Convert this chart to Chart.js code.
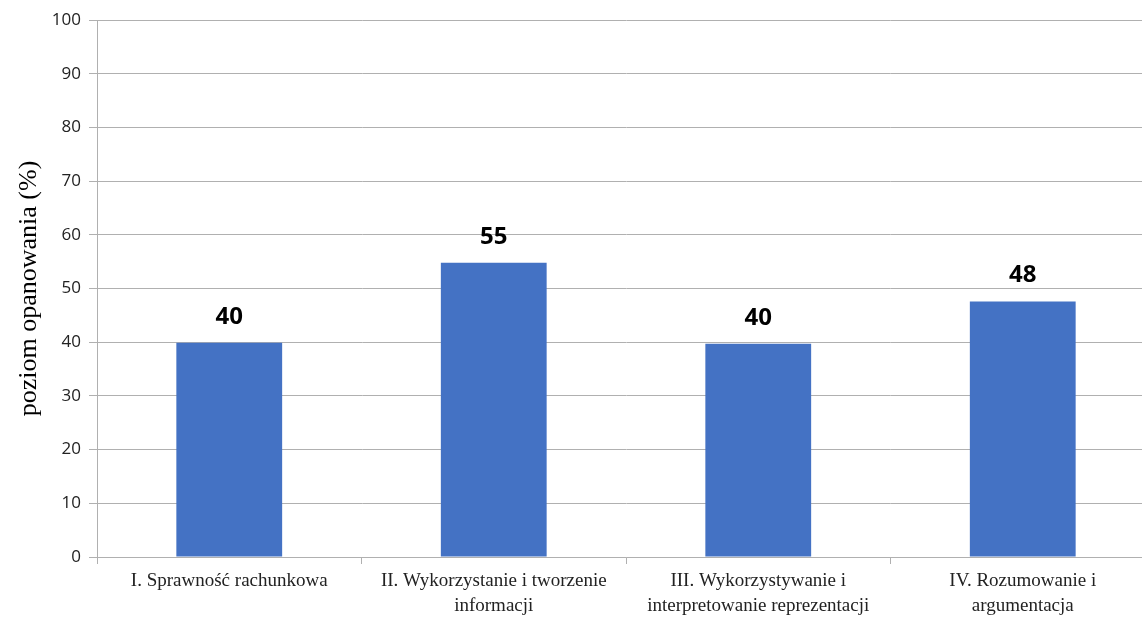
<!DOCTYPE html>
<html>
<head>
<meta charset="utf-8">
<script src="https://cdn.jsdelivr.net/npm/chart.js@4/dist/chart.umd.min.js"></script>
<style>
  body { margin: 0; background: #fff; overflow: hidden; }
  canvas { display: block; }
</style>
</head>
<body>
<canvas id="myChart" width="1156" height="621"></canvas>
<script>
// chart data
var categories = [
    'I. Sprawność rachunkowa',
    ['II. Wykorzystanie i tworzenie', 'informacji'],
    ['III. Wykorzystywanie i', 'interpretowanie reprezentacji'],
    ['IV. Rozumowanie i', 'argumentacja']
];
var values = [39.9, 54.8, 39.7, 47.6];
var valueLabels = ['40', '55', '40', '48'];
var yTicks = [0, 10, 20, 30, 40, 50, 60, 70, 80, 90, 100];

// draws the numbers above the bars
var barLabels = {
    id: 'barLabels',
    afterDatasetsDraw: function (chart) {
        var ctx = chart.ctx;
        var meta = chart.getDatasetMeta(0);
        ctx.save();
        ctx.font = 'bold 24px "Open Sans", sans-serif';
        ctx.fillStyle = '#000';
        ctx.textAlign = 'center';
        ctx.textBaseline = 'bottom';
        meta.data.forEach(function (bar, i) {
            ctx.fillText(valueLabels[i], bar.x, bar.y - 14);
        });
        ctx.restore();
    }
};

var ctx1 = document.getElementById('myChart').getContext('2d');
var myChart = new Chart(ctx1, {
    type: 'bar',
    data: {
        labels: categories,
        datasets: [{
            data: values,
            backgroundColor: '#4472C4',
            borderWidth: 0,
            categoryPercentage: 1,
            barPercentage: 0.4
        }]
    },
    options: {
        responsive: false,
        animation: false,
        layout: { padding: { top: 20, right: 1, left: 0, bottom: 0 } },
        plugins: {
            legend: { display: false },
            tooltip: { enabled: false }
        },
        scales: {
            x: {
                grid: {
                    offset: true,
                    drawOnChartArea: false,
                    color: '#b0b0b0',
                    tickLength: 7
                },
                border: { color: '#b0b0b0' },
                ticks: {
                    color: '#222',
                    font: { family: '"Liberation Serif", serif', size: 19, lineHeight: 1.3 },
                    maxRotation: 0,
                    padding: 5
                },
                afterFit: function (scale) { scale.height = 64; }
            },
            y: {
                min: 0,
                max: 100,
                afterBuildTicks: function (scale) {
                    scale.ticks = yTicks.map(function (v) { return { value: v }; });
                },
                grid: {
                    color: '#b0b0b0',
                    tickLength: 8
                },
                border: { color: '#b0b0b0' },
                ticks: {
                    color: '#222',
                    font: { family: '"Open Sans", sans-serif', size: 17 },
                    padding: 8
                },
                title: {
                    display: true,
                    text: 'poziom opanowania (%)',
                    color: '#000',
                    font: { family: '"Liberation Serif", serif', size: 26 },
                    padding: { top: 14, bottom: 0 }
                },
                afterFit: function (scale) { scale.width = 97; }
            }
        }
    },
    plugins: [barLabels]
});
</script>
</body>
</html>
